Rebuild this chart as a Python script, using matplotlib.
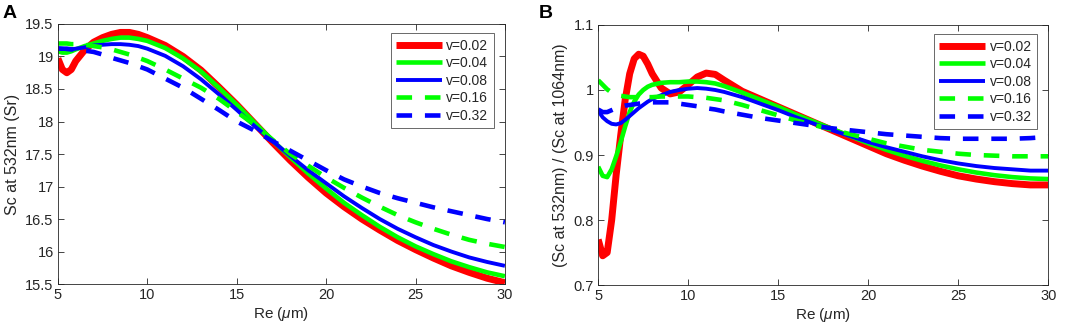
import matplotlib
matplotlib.use("Agg")
import matplotlib.pyplot as plt

plt.rcParams['font.family'] = ['Liberation Sans', 'DejaVu Sans']
plt.rcParams['mathtext.fontset'] = 'custom'
plt.rcParams['mathtext.it'] = 'Liberation Sans:italic'
plt.rcParams['mathtext.rm'] = 'Liberation Sans'

# ---------------- data ----------------
labels = ["v=0.02", "v=0.04", "v=0.08", "v=0.16", "v=0.32"]

xa = [5, 5.25, 5.5, 5.75, 6, 6.5, 7, 7.5, 8, 8.5, 9, 9.5, 10, 11, 12, 13, 14, 15,
      16, 17, 18, 19, 20, 21, 22, 23, 24, 25, 26, 27, 28, 29, 30]
a_v002 = [18.97, 18.8, 18.75, 18.8, 18.93, 19.1, 19.22, 19.29, 19.34, 19.37, 19.37, 19.34,
          19.29, 19.17, 19.0, 18.79, 18.53, 18.26, 17.97, 17.68, 17.4, 17.14, 16.9, 16.69,
          16.5, 16.33, 16.17, 16.03, 15.9, 15.78, 15.68, 15.59, 15.52]
a_v004 = [19.08, 19.06, 19.06, 19.08, 19.11, 19.16, 19.2, 19.24, 19.27, 19.29, 19.29, 19.27,
          19.24, 19.13, 18.97, 18.77, 18.52, 18.26, 17.98, 17.71, 17.45, 17.2, 16.97, 16.75,
          16.56, 16.38, 16.22, 16.08, 15.96, 15.85, 15.76, 15.68, 15.62]
a_v008 = [19.13, 19.12, 19.11, 19.11, 19.12, 19.14, 19.17, 19.18, 19.19, 19.19, 19.18, 19.16,
          19.12, 19.01, 18.85, 18.65, 18.42, 18.18, 17.93, 17.7, 17.47, 17.25, 17.05, 16.85,
          16.67, 16.5, 16.35, 16.22, 16.1, 16.0, 15.91, 15.84, 15.78]
a_v016 = [19.2, 19.2, 19.2, 19.19, 19.19, 19.18, 19.16, 19.14, 19.11, 19.07, 19.03, 18.98,
          18.93, 18.8, 18.66, 18.52, 18.35, 18.15, 17.95, 17.72, 17.5, 17.32, 17.14, 16.98,
          16.83, 16.69, 16.56, 16.45, 16.35, 16.26, 16.18, 16.12, 16.07]
a_v032 = [19.12, 19.12, 19.12, 19.11, 19.11, 19.09, 19.07, 19.03, 18.98, 18.94, 18.9, 18.85,
          18.8, 18.66, 18.52, 18.35, 18.18, 18.0, 17.86, 17.7, 17.55, 17.4, 17.25, 17.11,
          17.0, 16.9, 16.82, 16.75, 16.68, 16.62, 16.56, 16.5, 16.45]

xb = [5, 5.25, 5.5, 5.75, 6, 6.25, 6.5, 6.75, 7, 7.25, 7.5, 7.75, 8, 8.5, 9, 9.5, 10, 10.5,
      11, 11.5, 12, 13, 14, 15, 16, 17, 18, 19, 20, 21, 22, 23, 24, 25, 26, 27, 28, 29, 30]
b_v002 = [0.77, 0.745, 0.75, 0.8, 0.87, 0.93, 0.985, 1.025, 1.048, 1.055, 1.052, 1.04, 1.025,
          1.003, 0.994, 0.997, 1.008, 1.02, 1.026, 1.024, 1.015, 0.998, 0.986, 0.974, 0.962,
          0.95, 0.938, 0.926, 0.914, 0.902, 0.892, 0.883, 0.875, 0.868, 0.863, 0.859, 0.856,
          0.854, 0.854]
b_v004 = [0.882, 0.868, 0.866, 0.878, 0.898, 0.92, 0.944, 0.966, 0.982, 0.993, 1.0, 1.005,
          1.008, 1.011, 1.012, 1.012, 1.013, 1.013, 1.012, 1.01, 1.006, 0.996, 0.985, 0.974,
          0.962, 0.951, 0.94, 0.929, 0.918, 0.908, 0.899, 0.891, 0.884, 0.878, 0.873, 0.869,
          0.866, 0.864, 0.863]
b_v008 = [0.968, 0.958, 0.952, 0.948, 0.947, 0.949, 0.954, 0.96, 0.966, 0.972, 0.977, 0.982,
          0.986, 0.992, 0.997, 1.0, 1.002, 1.003, 1.002, 1.0, 0.997, 0.989, 0.979, 0.969,
          0.958, 0.948, 0.938, 0.929, 0.92, 0.912, 0.905, 0.898, 0.892, 0.887, 0.883, 0.88,
          0.878, 0.876, 0.876]
b_v016 = [1.015, 1.008, 1.001, 0.996, 0.993, 0.991, 0.99, 0.989, 0.989, 0.989, 0.989, 0.989,
          0.989, 0.99, 0.99, 0.99, 0.99, 0.989, 0.988, 0.986, 0.984, 0.977, 0.969, 0.961,
          0.953, 0.946, 0.939, 0.932, 0.925, 0.918, 0.913, 0.908, 0.905, 0.902, 0.9, 0.899,
          0.898, 0.898, 0.898]
b_v032 = [0.97, 0.966, 0.966, 0.969, 0.972, 0.974, 0.976, 0.977, 0.978, 0.979, 0.98, 0.98,
          0.981, 0.981, 0.981, 0.979, 0.977, 0.975, 0.972, 0.97, 0.967, 0.962, 0.957, 0.953,
          0.949, 0.945, 0.941, 0.938, 0.935, 0.932, 0.93, 0.928, 0.926, 0.925, 0.925, 0.925,
          0.925, 0.926, 0.928]

# ---------------- styles ----------------
styles = [
    dict(color=(1, 0, 0), lw=5.0, ls='-'),
    dict(color=(0, 1, 0), lw=3.3, ls='-'),
    dict(color=(0, 0, 1), lw=2.8, ls='-'),
    dict(color=(0, 1, 0), lw=3.3, ls=(0, (3.4, 2.8))),
    dict(color=(0, 0, 1), lw=3.3, ls=(0, (3.4, 2.8))),
]
axcol = (0.15, 0.15, 0.15)

fig = plt.figure(figsize=(10.72, 3.33), dpi=100)
axA = fig.add_axes([0.054, 0.147, 0.417, 0.781])
axB = fig.add_axes([0.558, 0.144, 0.420, 0.781])


def setup(ax, ylim, yticks, yticklabels, ylabel):
    ax.set_xlim(5, 30)
    ax.set_ylim(*ylim)
    ax.set_xticks([5, 10, 15, 20, 25, 30])
    ax.set_xticklabels(["5", "10", "15", "20", "25", "30"])
    ax.set_yticks(yticks)
    ax.set_yticklabels(yticklabels)
    ax.tick_params(direction='in', length=4, width=0.6, top=True, right=True,
                   colors=axcol, labelsize=10.5, pad=3)
    for s in ax.spines.values():
        s.set_color(axcol)
        s.set_linewidth(0.6)
    ax.set_xlabel(r"Re ($\mu$m)", fontsize=11, color=axcol, labelpad=2)
    ax.set_ylabel(ylabel, fontsize=11.5, color=axcol, labelpad=4)


seriesA = [a_v002, a_v004, a_v008, a_v016, a_v032]
seriesB = [b_v002, b_v004, b_v008, b_v016, b_v032]

for ys, st, lab in zip(seriesA, styles, labels):
    axA.plot(xa, ys, color=st['color'], lw=st['lw'], linestyle=st['ls'], label=lab,
             solid_capstyle='butt', dash_capstyle='butt', solid_joinstyle='round')
for ys, st, lab in zip(seriesB, styles, labels):
    axB.plot(xb, ys, color=st['color'], lw=st['lw'], linestyle=st['ls'], label=lab,
             solid_capstyle='butt', dash_capstyle='butt', solid_joinstyle='round')

setup(axA, (15.5, 19.5), [15.5, 16, 16.5, 17, 17.5, 18, 18.5, 19, 19.5],
      ["15.5", "16", "16.5", "17", "17.5", "18", "18.5", "19", "19.5"],
      "Sc at 532nm (Sr)")
setup(axB, (0.7, 1.1), [0.7, 0.8, 0.9, 1.0, 1.1],
      ["0.7", "0.8", "0.9", "1", "1.1"],
      "(Sc at 532nm) / (Sc at 1064nm)")

for ax in (axA, axB):
    leg = ax.legend(loc='upper right', bbox_to_anchor=(0.975, 0.965), fontsize=10,
                    handlelength=3.3, handletextpad=0.3, labelspacing=0.25,
                    borderpad=0.4, frameon=True, fancybox=False, borderaxespad=0.0)
    leg.get_frame().set_edgecolor(axcol)
    leg.get_frame().set_linewidth(0.6)
    for t in leg.get_texts():
        t.set_color(axcol)

fig.text(0.002, 0.985, "A", fontsize=14, fontweight='bold', va='top', ha='left')
fig.text(0.503, 0.985, "B", fontsize=14, fontweight='bold', va='top', ha='left')

fig.savefig("out.png", dpi=100)
